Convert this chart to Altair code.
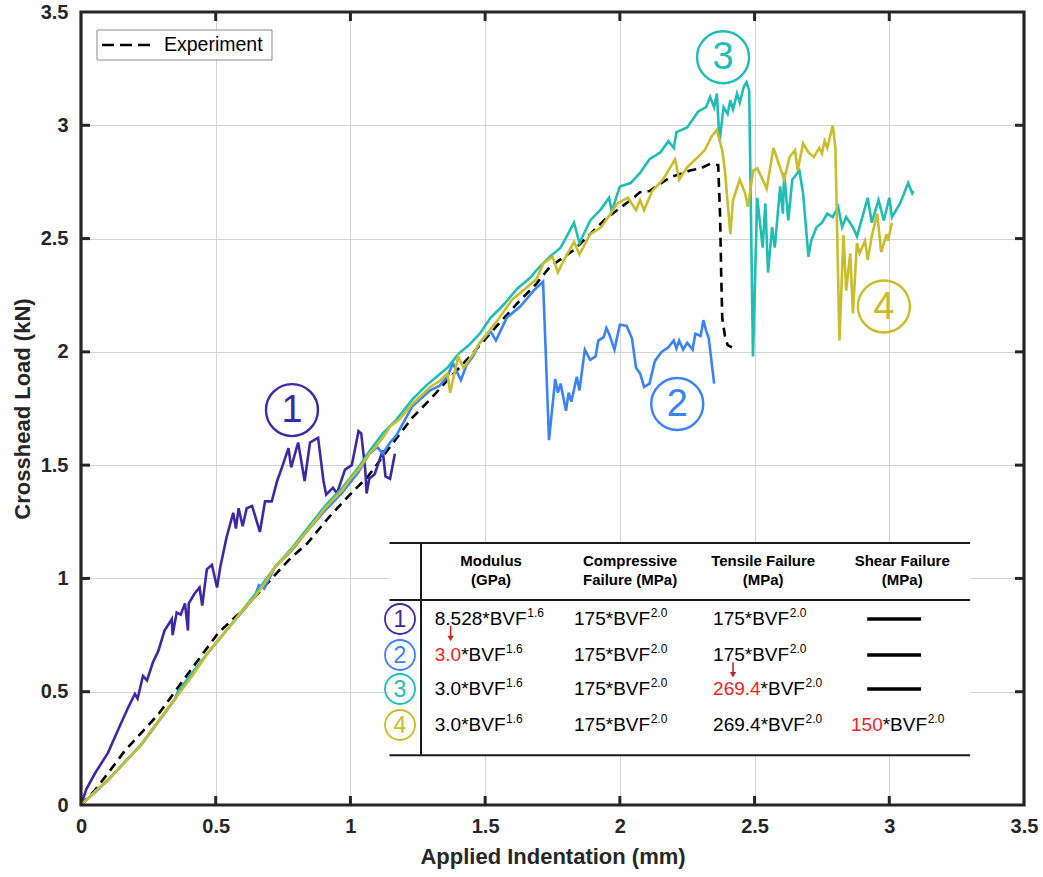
import altair as alt
import pandas as pd

# ---------------- data ----------------
exp_x = [0, 0.052, 0.10, 0.163, 0.287, 0.41, 0.51, 0.60, 0.67, 0.77, 0.84, 0.92, 0.99, 1.065,
         1.14, 1.23, 1.296, 1.36, 1.444, 1.54, 1.62, 1.69, 1.74, 1.83, 1.95, 2.04, 2.075, 2.11,
         2.186, 2.26, 2.30, 2.335, 2.365, 2.372, 2.376, 2.38, 2.39, 2.40, 2.416]
exp_y = [0, 0.066, 0.14, 0.24, 0.40, 0.60, 0.76, 0.86, 0.95, 1.08, 1.155, 1.27, 1.36, 1.45,
         1.57, 1.71, 1.79, 1.875, 1.98, 2.11, 2.215, 2.30, 2.375, 2.45, 2.59, 2.67, 2.705, 2.71,
         2.77, 2.80, 2.81, 2.83, 2.824, 2.60, 2.35, 2.15, 2.07, 2.03, 2.02]

c1_x = [0, 0.02, 0.052, 0.10, 0.137, 0.175, 0.20, 0.21, 0.23, 0.245, 0.267, 0.287, 0.31, 0.337,
        0.34, 0.355, 0.37, 0.386, 0.397, 0.40, 0.42, 0.44, 0.45, 0.467, 0.486, 0.505, 0.517,
        0.54, 0.565, 0.575, 0.585, 0.60, 0.615, 0.635, 0.664, 0.683, 0.708, 0.728, 0.746, 0.77,
        0.78, 0.806, 0.83, 0.85, 0.88, 0.90, 0.91, 0.935, 0.95, 0.98, 1.005, 1.03, 1.04, 1.055,
        1.06, 1.07, 1.09, 1.12, 1.13, 1.147, 1.165]
c1_y = [0, 0.07, 0.14, 0.23, 0.33, 0.43, 0.49, 0.47, 0.57, 0.55, 0.63, 0.68, 0.77, 0.82,
        0.75, 0.85, 0.84, 0.89, 0.77, 0.89, 0.93, 0.96, 0.88, 1.04, 1.06, 0.96, 1.05,
        1.18, 1.29, 1.22, 1.31, 1.23, 1.31, 1.32, 1.205, 1.34, 1.34, 1.43, 1.49, 1.575,
        1.49, 1.60, 1.43, 1.60, 1.62, 1.43, 1.37, 1.40, 1.375, 1.48, 1.50, 1.65, 1.64, 1.48,
        1.375, 1.44, 1.46, 1.565, 1.45, 1.44, 1.55]

c2_x = [0, 0.10, 0.226, 0.35, 0.36, 0.47, 0.56, 0.646, 0.66, 0.68, 0.72, 0.78, 0.84, 0.906,
        0.97, 1.03, 1.07, 1.10, 1.12, 1.147, 1.17, 1.23, 1.296, 1.33, 1.36, 1.38, 1.41, 1.43,
        1.455, 1.48, 1.52, 1.54, 1.58, 1.63, 1.68, 1.715, 1.737, 1.76, 1.77, 1.78, 1.80, 1.81,
        1.82, 1.84, 1.85, 1.87, 1.89, 1.91, 1.92, 1.94, 1.95, 1.96, 1.98, 2.0, 2.025, 2.045,
        2.06, 2.075, 2.09, 2.11, 2.13, 2.155, 2.18, 2.20, 2.21, 2.22, 2.235, 2.25, 2.27, 2.28,
        2.30, 2.31, 2.32, 2.33, 2.35]
c2_y = [0, 0.11, 0.27, 0.47, 0.50, 0.67, 0.80, 0.92, 0.97, 0.955, 1.05, 1.12, 1.21, 1.30,
        1.38, 1.47, 1.55, 1.58, 1.55, 1.60, 1.63, 1.76, 1.83, 1.85, 1.89, 1.95, 1.875, 1.94,
        1.98, 2.04, 2.09, 2.05, 2.15, 2.20, 2.27, 2.31, 1.61, 1.88, 1.82, 1.86, 1.74, 1.82,
        1.78, 1.89, 1.83, 2.01, 1.965, 1.98, 2.05, 2.065, 2.105, 2.08, 2.01, 2.12, 2.115, 2.06,
        1.93, 1.905, 1.845, 1.86, 1.96, 2.0, 2.02, 2.05, 2.015, 2.05, 2.01, 2.04, 2.01, 2.08,
        2.07, 2.14, 2.095, 2.06, 1.86]

c3_x = [0, 0.10, 0.226, 0.35, 0.36, 0.47, 0.56, 0.646, 0.72, 0.78, 0.84, 0.906, 0.97, 1.03,
        1.07, 1.12, 1.17, 1.23, 1.28, 1.33, 1.36, 1.40, 1.44, 1.48, 1.52, 1.57, 1.62, 1.67,
        1.69, 1.74, 1.78, 1.83, 1.85, 1.89, 1.93, 1.96, 1.97, 2.0, 2.04, 2.075, 2.11, 2.15,
        2.18, 2.20, 2.21, 2.25, 2.29, 2.32, 2.335, 2.35, 2.36, 2.37, 2.385, 2.40, 2.41, 2.42,
        2.435, 2.445, 2.46, 2.47, 2.48, 2.494, 2.51, 2.53, 2.54, 2.55, 2.565, 2.575, 2.595,
        2.605, 2.61, 2.625, 2.64, 2.66, 2.665, 2.68, 2.70, 2.71, 2.73, 2.75, 2.77, 2.79, 2.81,
        2.825, 2.84, 2.865, 2.88, 2.90, 2.92, 2.935, 2.96, 2.98, 3.00, 3.01, 3.04, 3.07, 3.085,
        3.09]
c3_y = [0, 0.11, 0.27, 0.47, 0.50, 0.67, 0.80, 0.93, 1.05, 1.13, 1.22, 1.32, 1.40, 1.49,
        1.56, 1.64, 1.70, 1.79, 1.85, 1.90, 1.93, 1.99, 2.03, 2.08, 2.15, 2.21, 2.28, 2.33,
        2.36, 2.42, 2.46, 2.57, 2.48, 2.58, 2.63, 2.68, 2.62, 2.73, 2.745, 2.79, 2.85, 2.88,
        2.93, 2.90, 2.97, 2.99, 3.06, 3.08, 3.125, 3.08, 3.14, 2.93, 3.08, 3.05, 3.11, 3.07,
        3.14, 3.10, 3.17, 3.19, 3.155, 1.98, 2.68, 2.46, 2.655, 2.35, 2.55, 2.46, 2.73,
        2.61, 2.79, 2.58, 2.76, 2.79, 2.81, 2.70, 2.42, 2.49, 2.55, 2.57, 2.61, 2.595, 2.64,
        2.55, 2.595, 2.55, 2.51, 2.595, 2.68, 2.57, 2.67, 2.58, 2.68, 2.595, 2.655, 2.745, 2.70,
        2.71]

c4_x = [0, 0.05, 0.10, 0.16, 0.226, 0.29, 0.35, 0.41, 0.47, 0.51, 0.56, 0.60, 0.646, 0.68,
        0.72, 0.78, 0.84, 0.906, 0.97, 1.0, 1.03, 1.07, 1.09, 1.12, 1.147, 1.18, 1.23, 1.296,
        1.33, 1.36, 1.37, 1.40, 1.42, 1.455, 1.48, 1.54, 1.60, 1.64, 1.69, 1.716, 1.75, 1.77,
        1.79, 1.83, 1.85, 1.89, 1.93, 1.96, 1.99, 2.03, 2.06, 2.075, 2.09, 2.12, 2.16, 2.205,
        2.22, 2.25, 2.29, 2.315, 2.34, 2.36, 2.38, 2.39, 2.41, 2.42, 2.445, 2.465, 2.475, 2.495,
        2.51, 2.53, 2.545, 2.57, 2.59, 2.61, 2.63, 2.65, 2.66, 2.68, 2.70, 2.72, 2.74, 2.75,
        2.76, 2.77, 2.79, 2.80, 2.815, 2.83, 2.84, 2.855, 2.865, 2.88, 2.89, 2.91, 2.92, 2.935,
        2.955, 2.97, 2.99, 2.995, 3.01]
c4_y = [0, 0.057, 0.11, 0.185, 0.27, 0.375, 0.47, 0.565, 0.67, 0.73, 0.80, 0.86, 0.92, 0.975,
        1.05, 1.125, 1.21, 1.31, 1.39, 1.44, 1.48, 1.55, 1.575, 1.62, 1.67, 1.70, 1.77, 1.845,
        1.87, 1.905, 1.82, 1.98, 1.93, 1.99, 2.04, 2.13, 2.23, 2.27, 2.32, 2.39, 2.42, 2.35,
        2.40, 2.485, 2.43, 2.52, 2.55, 2.60, 2.655, 2.68, 2.625, 2.67, 2.625, 2.71, 2.76, 2.85,
        2.76, 2.815, 2.86, 2.89, 2.95, 2.98, 2.89, 2.80, 2.52, 2.67, 2.76, 2.70, 2.64, 2.80,
        2.81, 2.76, 2.72, 2.90, 2.83, 2.76, 2.86, 2.89, 2.80, 2.92, 2.88, 2.86, 2.90, 2.875,
        2.93, 2.90, 3.00, 2.90, 2.05, 2.515, 2.27, 2.435, 2.17, 2.48, 2.435, 2.49, 2.405, 2.51,
        2.61, 2.44, 2.52, 2.49, 2.57]

series_names = ["1", "2", "3", "4"]
series_colors = ["#3b2aa6", "#3b82f6", "#1fbdb6", "#c9bd2c"]

# circled labels on the plot
lab_names = ["1", "2", "3", "4"]
lab_x = [0.783, 2.213, 2.383, 2.98]
lab_y = [1.743, 1.77, 3.30, 2.20]

legend_label = ["Experiment"]

# table contents
head_line1 = ["Modulus", "Compressive", "Tensile Failure", "Shear Failure"]
head_line2 = ["(GPa)", "Failure (MPa)", "(MPa)", "(MPa)"]
# each cell: list of (text, is_red) followed by superscript; None = dash
cells = [
    [[("8.528*BVF", False)], [("175*BVF", False)], [("175*BVF", False)], None],
    [[("3.0", True), ("*BVF", False)], [("175*BVF", False)], [("175*BVF", False)], None],
    [[("3.0*BVF", False)], [("175*BVF", False)], [("269.4", True), ("*BVF", False)], None],
    [[("3.0*BVF", False)], [("175*BVF", False)], [("269.4*BVF", False)],
     [("150", True), ("*BVF", False)]],
]
col_sup = ["1.6", "2.0", "2.0", "2.0"]
tick_vals = [0, 0.5, 1.0, 1.5, 2.0, 2.5, 3.0, 3.5]

# ---------------- layout constants ----------------
W, H = 943, 793
XMAX, YMAX = 3.5, 3.5
PXU = W / XMAX
FONT = "Liberation Sans"
BLACK = "#000000"
RED = "#f21d1d"
ARROW = "#c0282d"
INK = "#262626"

tab_left, tab_right, tab_div = 1.145, 3.30, 1.262
tab_top, tab_head, tab_bot = 1.156, 0.905, 0.22
col_x0 = [1.313, 1.830, 2.346, 2.858]
col_center = [1.522, 2.038, 2.532, 3.048]
row_y = [0.821, 0.662, 0.512, 0.353]
head_y = [1.077, 0.993]
circ_x = 1.184
dash_x = (2.918, 3.118)
ROW_FS = 19
SUP_FS = 12

ARIAL = {str(d): 556 for d in range(10)}
ARIAL.update({".": 278, "*": 389, "B": 667, "V": 667, "F": 611})


def tw(s, fs):
    return sum(ARIAL[c] for c in s) * fs / 1000.0 / PXU


# ---------------- frames ----------------
def series_df(name, xs, ys):
    return pd.DataFrame({"x": xs, "y": ys, "s": name, "i": range(len(xs))})


curves = pd.concat([series_df(n, xx, yy) for n, xx, yy in
                    zip(series_names, [c1_x, c2_x, c3_x, c4_x], [c1_y, c2_y, c3_y, c4_y])])
exp_df = series_df("Experiment", exp_x, exp_y)

seg_black, seg_red, seg_sup = [], [], []
for r, row in enumerate(cells):
    for c, cell in enumerate(row):
        if cell is None:
            continue
        x = col_x0[c]
        for text, red in cell:
            (seg_red if red else seg_black).append({"x": x, "y": row_y[r], "t": text})
            x += tw(text, ROW_FS)
        seg_sup.append({"x": x + 0.6 / PXU, "y": row_y[r], "t": col_sup[c]})

dash_rows = pd.DataFrame({"x": dash_x[0], "x2": dash_x[1], "y": row_y[:3]})
head_df = pd.DataFrame({"x": col_center * 2, "y": [head_y[0]] * 4 + [head_y[1]] * 4,
                        "t": head_line1 + head_line2})
tab_circ = pd.DataFrame({"x": circ_x, "y": row_y, "s": series_names})
labs = pd.DataFrame({"x": lab_x, "y": lab_y, "s": lab_names})
arrows = pd.DataFrame({"x": [1.372, 2.420], "y": [0.790, 0.630], "y2": [0.735, 0.575]})
hlines = pd.DataFrame({"x": tab_left, "x2": tab_right, "y": [tab_top, tab_head, tab_bot]})
vline = pd.DataFrame({"x": [tab_div], "y": [tab_bot], "y2": [tab_top]})
tab_bg = pd.DataFrame({"x": [tab_left], "x2": [tab_right], "y": [tab_bot], "y2": [tab_top]})
inner = [v for v in tick_vals if 0 < v < XMAX]
ticks_df = pd.DataFrame({"x": inner, "y": inner})
leg_df = pd.DataFrame({"t": legend_label})

xs = alt.Scale(domain=[0, XMAX], nice=False, zero=False)
ys = alt.Scale(domain=[0, YMAX], nice=False, zero=False)
cs = alt.Scale(domain=series_names, range=series_colors)

axis_common = dict(grid=True, gridColor="#d4d4d4", gridWidth=1, domain=False, ticks=False,
                   labelFont=FONT, labelFontSize=20, labelFontWeight="bold", labelColor=INK,
                   labelFlush=False,
                   titleFont=FONT, titleFontSize=22, titleFontWeight="bold", titleColor=INK,
                   values=tick_vals, format="~g")
x_axis = alt.Axis(title="Applied Indentation (mm)", labelPadding=11, titlePadding=10,
                  **axis_common)
y_axis = alt.Axis(title="Crosshead Load (kN)", labelPadding=13, titlePadding=6, **axis_common)

X = alt.X("x:Q", scale=xs, axis=x_axis)
Y = alt.Y("y:Q", scale=ys, axis=y_axis)
Y2f = alt.Y("y2:Q", scale=ys, axis=y_axis)
COL = alt.Color("s:N", scale=cs, legend=None)

exp_layer = alt.Chart(exp_df).mark_line(strokeWidth=2.6, color="black", strokeDash=[9, 6]).encode(
    x=X, y=Y, order="i:Q")

curve_layer = alt.Chart(curves).mark_line(strokeWidth=2.6).encode(
    x=X, y=Y, order="i:Q", color=COL, detail="s:N")

lab_circles = alt.Chart(labs).mark_point(shape="circle", filled=False, size=2704,
                                         strokeWidth=2.4, opacity=1).encode(x=X, y=Y, color=COL)
lab_text = alt.Chart(labs).mark_text(font=FONT, fontSize=38, baseline="middle",
                                     align="center", dy=1).encode(x=X, y=Y, text="s:N", color=COL)

bg = alt.Chart(tab_bg).mark_rect(fill="white").encode(x=X, x2="x2:Q", y=Y, y2="y2:Q")
hl = alt.Chart(hlines).mark_rule(color="#1a1a1a", strokeWidth=2).encode(x=X, x2="x2:Q", y=Y)
vl = alt.Chart(vline).mark_rule(color="#1a1a1a", strokeWidth=2).encode(x=X, y=Y, y2="y2:Q")
dashes = alt.Chart(dash_rows).mark_rule(color="black", strokeWidth=3.5).encode(
    x=X, x2="x2:Q", y=Y)
heads = alt.Chart(head_df).mark_text(font=FONT, fontSize=15, fontWeight="bold",
                                     color="black", align="center", baseline="middle").encode(
    x=X, y=Y, text="t:N")
t_black = alt.Chart(pd.DataFrame(seg_black)).mark_text(
    font=FONT, fontSize=ROW_FS, color=BLACK, align="left", baseline="middle").encode(
    x=X, y=Y, text="t:N")
t_red = alt.Chart(pd.DataFrame(seg_red)).mark_text(
    font=FONT, fontSize=ROW_FS, color=RED, align="left", baseline="middle").encode(
    x=X, y=Y, text="t:N")
t_sup = alt.Chart(pd.DataFrame(seg_sup)).mark_text(
    font=FONT, fontSize=SUP_FS, color=BLACK, align="left", baseline="middle", dy=-6).encode(
    x=X, y=Y, text="t:N")
tc = alt.Chart(tab_circ).mark_point(shape="circle", filled=False, size=900,
                                    strokeWidth=1.8, opacity=1).encode(x=X, y=Y, color=COL)
tt = alt.Chart(tab_circ).mark_text(font=FONT, fontSize=23, baseline="middle",
                                   align="center", dy=1).encode(x=X, y=Y, text="s:N", color=COL)
arr_line = alt.Chart(arrows).mark_rule(color=ARROW, strokeWidth=1.6).encode(
    x=X, y=Y, y2="y2:Q")
arr_head = alt.Chart(arrows).mark_point(shape="triangle-down", filled=True, size=40,
                                        color=ARROW, opacity=1).encode(x=X, y=Y2f)

tick_b = alt.Chart(ticks_df).mark_rule(color=INK, strokeWidth=3).encode(
    x=X, y=alt.value(H), y2=alt.value(H - 9))
tick_t = alt.Chart(ticks_df).mark_rule(color=INK, strokeWidth=3).encode(
    x=X, y=alt.value(0), y2=alt.value(9))
tick_l = alt.Chart(ticks_df).mark_rule(color=INK, strokeWidth=3).encode(
    y=Y, x=alt.value(0), x2=alt.value(9))
tick_r = alt.Chart(ticks_df).mark_rule(color=INK, strokeWidth=3).encode(
    y=Y, x=alt.value(W), x2=alt.value(W - 9))

# thick box around the plot area
frame = alt.Chart(leg_df).mark_rect(filled=False, stroke=INK, strokeWidth=3.2).encode(
    x=alt.value(0), x2=alt.value(W), y=alt.value(0), y2=alt.value(H))

# hand-made legend box (top-left, inside plot)
leg_box = alt.Chart(leg_df).mark_rect(fill="white", stroke="#8c8c8c", strokeWidth=1).encode(
    x=alt.value(16), x2=alt.value(191), y=alt.value(18), y2=alt.value(48))
leg_line = alt.Chart(leg_df).mark_rule(color="black", strokeWidth=2.6, strokeDash=[12, 6]).encode(
    x=alt.value(21), x2=alt.value(70), y=alt.value(33))
leg_text = alt.Chart(leg_df).mark_text(font=FONT, fontSize=19.5, color="black", align="left",
                                       baseline="middle").encode(
    x=alt.value(83), y=alt.value(33), text="t:N")

chart = alt.layer(
    exp_layer, curve_layer, lab_circles, lab_text,
    bg, hl, vl, dashes, heads, t_black, t_red, t_sup, tc, tt, arr_line, arr_head,
    tick_b, tick_t, tick_l, tick_r, frame, leg_box, leg_line, leg_text,
).properties(
    width=W, height=H,
    autosize=alt.AutoSizeParams(type="none"),
    padding={"left": 81, "top": 12, "right": 19, "bottom": 72},
    background="white",
).configure_view(stroke=None)

chart.save("out.html", embed_options={"renderer": "svg", "actions": False})
